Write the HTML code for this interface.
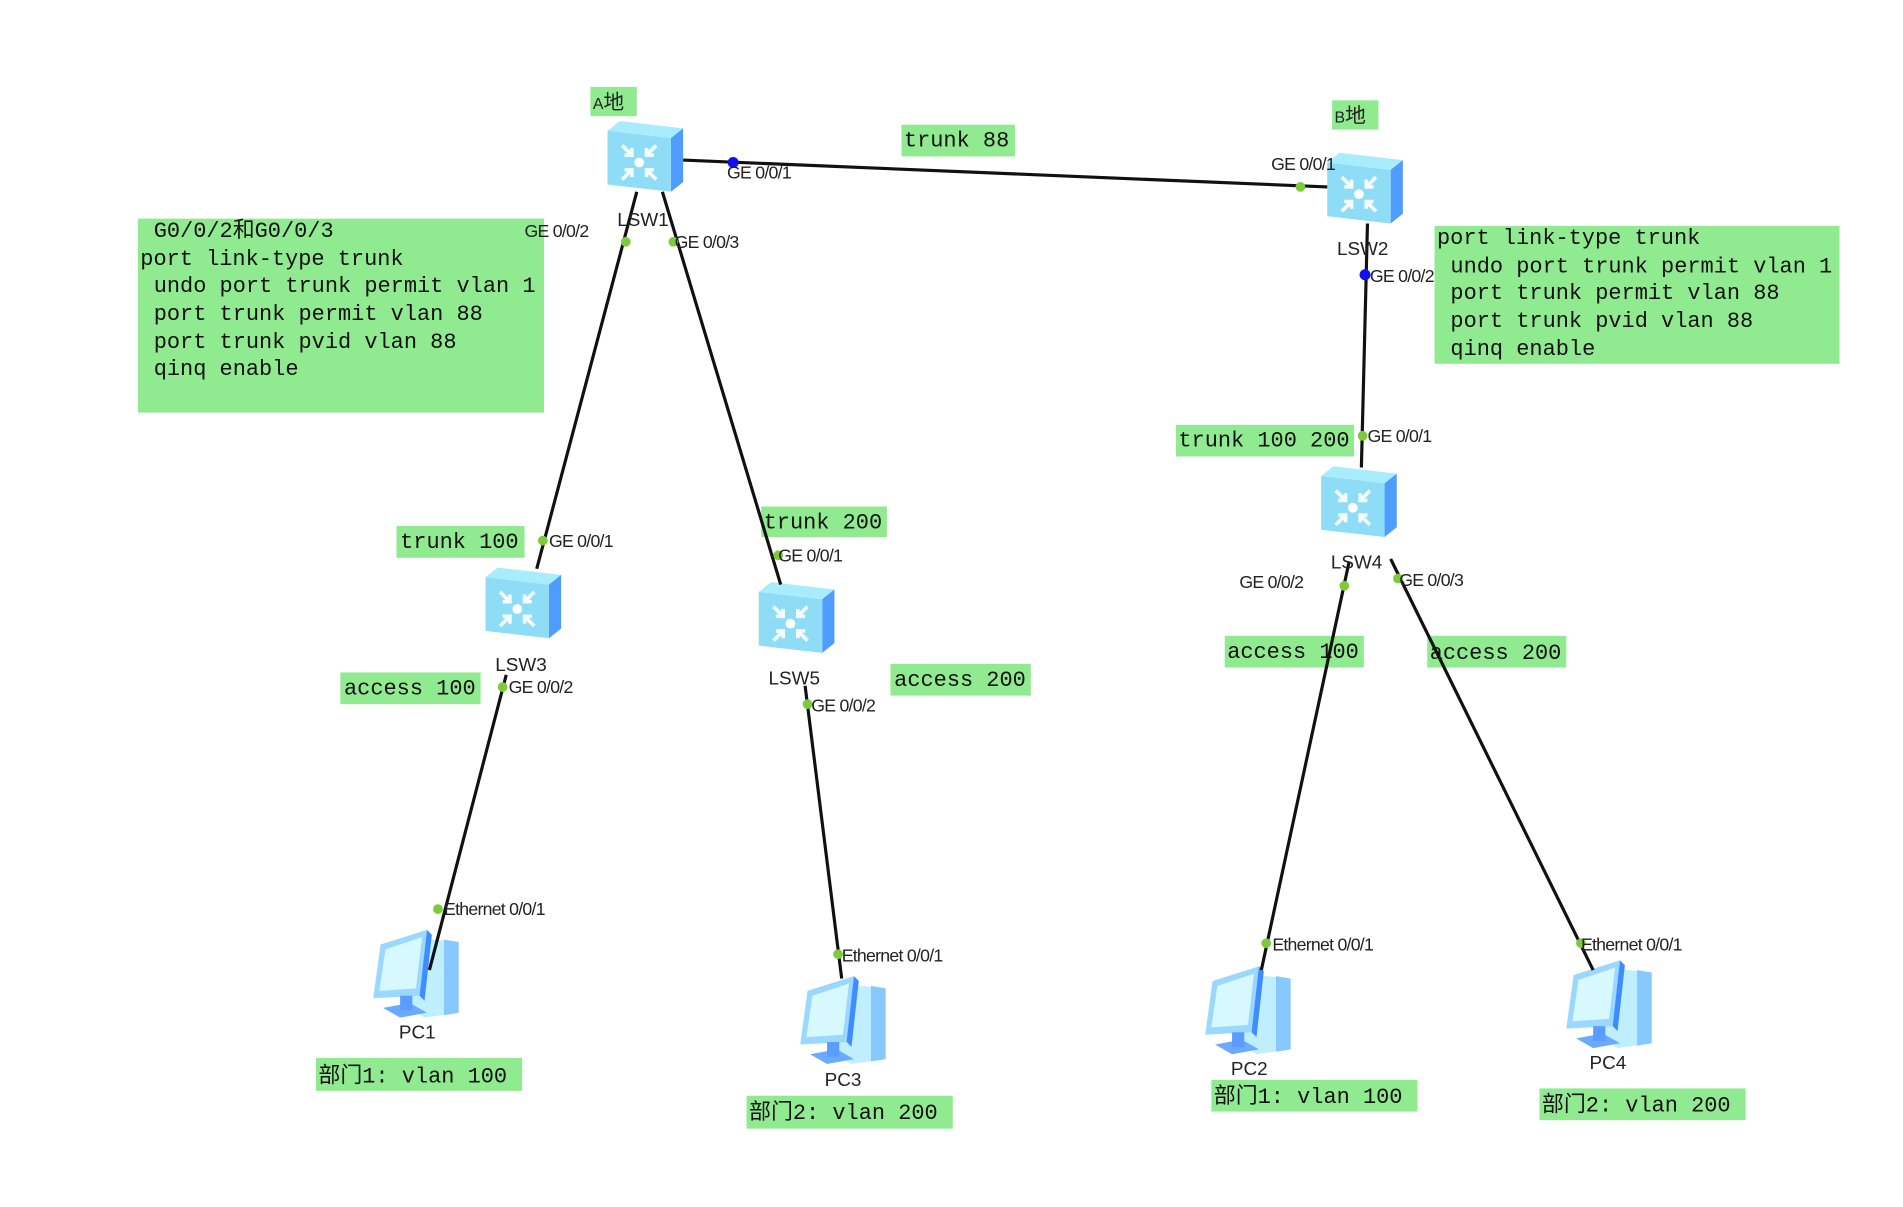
<!DOCTYPE html>
<html><head><meta charset="utf-8"><style>
html,body{margin:0;padding:0;background:#fff;width:1903px;height:1207px;overflow:hidden}
.m{font-family:"Liberation Mono","Noto Sans CJK SC",monospace;font-size:18px;fill:#111}
.s{font-family:"Liberation Sans","Noto Sans CJK SC",sans-serif;font-size:14.5px;fill:#222;letter-spacing:-0.6px}
.d{font-family:"Liberation Sans",sans-serif;font-size:15.5px;fill:#222}
.g{fill:#90EA8F}
</style></head><body>
<svg width="1903" height="1207" viewBox="0 0 1560 989" xmlns="http://www.w3.org/2000/svg">
<defs>
<g id="sw">
 <polygon points="0,8 10,0 62,6 52,14" fill="#a8ecff"/>
 <polygon points="52,14 62,6 62,50 52,58" fill="#4f9cff"/>
 <polygon points="0,8 52,14 52,58 0,52" fill="#8fdcf7"/>
 <g stroke="#fff" stroke-width="3" fill="none" opacity="0.9">
  <path d="M12,20 l8,8 M20,22 v6 h-6"/><path d="M40,20 l-8,8 M32,22 v6 h6"/>
  <path d="M12,48 l8,-8 M20,46 v-6 h-6"/><path d="M40,48 l-8,-8 M32,46 v-6 h6"/>
 </g>
 <circle cx="26" cy="34" r="4" fill="#fff"/>
</g>
<g id="pc">
 <polygon points="30,8 70,12 70,70 42,74 30,66" fill="#bfefff"/>
 <polygon points="58,10 70,12 70,70 58,72" fill="#86c8ff"/>
 <polygon points="6,14 44,2 38,56 0,58" fill="#9ad8ff"/>
 <polygon points="10,18 40,8 35,50 5,52" fill="#d8f8ff"/>
 <polygon points="44,2 48,6 42,60 38,56" fill="#3f8cff"/>
 <polygon points="8,66 30,62 44,70 22,74" fill="#6aaaff"/>
 <rect x="22" y="56" width="10" height="12" fill="#5a9cff"/>
</g>
</defs>
<rect class="g" x="484" y="71" width="38" height="24"/>
<rect class="g" x="1092" y="82" width="38" height="24"/>
<rect class="g" x="739" y="102" width="93" height="26"/>
<rect class="g" x="113" y="179" width="333" height="159"/>
<rect class="g" x="1176" y="185" width="332" height="113"/>
<rect class="g" x="964" y="348" width="146" height="26"/>
<rect class="g" x="325" y="431" width="105" height="26"/>
<rect class="g" x="624" y="415" width="103" height="25"/>
<rect class="g" x="279" y="551" width="115" height="26"/>
<rect class="g" x="730" y="544" width="115" height="26"/>
<rect class="g" x="1004" y="521" width="114" height="26"/>
<rect class="g" x="1170" y="521" width="114" height="26"/>
<rect class="g" x="259" y="867" width="169" height="27"/>
<rect class="g" x="612" y="898" width="169" height="27"/>
<rect class="g" x="993" y="885" width="169" height="26"/>
<rect class="g" x="1262" y="892" width="169" height="26"/>
<text class="d" x="486" y="89" style="font-size:13px">A<tspan style="font-size:17px">地</tspan></text>
<text class="d" x="1094" y="100" style="font-size:13px">B<tspan style="font-size:17px">地</tspan></text>
<text class="m" x="741" y="120">trunk 88</text>
<g class="m">
<text x="126" y="194">G0/0/2和G0/0/3</text>
<text x="115" y="217">port link-type trunk</text>
<text x="126" y="239">undo port trunk permit vlan 1</text>
<text x="126" y="262">port trunk permit vlan 88</text>
<text x="126" y="285">port trunk pvid vlan 88</text>
<text x="126" y="307">qinq enable</text>
<text x="1178" y="200">port link-type trunk</text>
<text x="1189" y="223">undo port trunk permit vlan 1</text>
<text x="1189" y="245">port trunk permit vlan 88</text>
<text x="1189" y="268">port trunk pvid vlan 88</text>
<text x="1189" y="291">qinq enable</text>
<text x="966" y="366">trunk 100 200</text>
<text x="328" y="449">trunk 100</text>
<text x="626" y="433">trunk 200</text>
<text x="282" y="569">access 100</text>
<text x="733" y="562">access 200</text>
<text x="1006" y="539">access 100</text>
<text x="1172" y="540">access 200</text>
<text x="261" y="887">部门1: vlan 100</text>
<text x="614" y="917">部门2: vlan 200</text>
<text x="995" y="904">部门1: vlan 100</text>
<text x="1264" y="911">部门2: vlan 200</text>
</g>
<use href="#sw" x="498" y="99"/>
<use href="#sw" x="1088" y="125"/>
<use href="#sw" x="398" y="465"/>
<use href="#sw" x="622" y="477"/>
<use href="#sw" x="1083" y="382"/>
<use href="#pc" x="306" y="760"/>
<use href="#pc" x="656" y="798"/>
<use href="#pc" x="988" y="790"/>
<use href="#pc" x="1284" y="785"/>
<g stroke="#111" stroke-width="2.6" fill="none">
<line x1="560" y1="131" x2="1088" y2="153"/>
<line x1="522" y1="157" x2="440" y2="466"/>
<line x1="543" y1="157" x2="640" y2="479"/>
<line x1="1121" y1="183" x2="1116" y2="383"/>
<line x1="415" y1="553" x2="352" y2="795"/>
<line x1="660" y1="562" x2="690" y2="802"/>
<line x1="1106" y1="460" x2="1034" y2="795"/>
<line x1="1140" y1="458" x2="1306" y2="795"/>
</g>
<g fill="#7ccc3a">
<circle cx="1066" cy="153" r="4"/><circle cx="513" cy="198" r="4"/><circle cx="552" cy="198" r="4"/>
<circle cx="445" cy="443" r="4"/><circle cx="638" cy="455" r="4"/><circle cx="1117" cy="357" r="4"/>
<circle cx="412" cy="563" r="4"/><circle cx="662" cy="577" r="4"/><circle cx="1102" cy="480" r="4"/>
<circle cx="1146" cy="474" r="4"/><circle cx="359" cy="745" r="4"/><circle cx="687" cy="782" r="4"/>
<circle cx="1038" cy="773" r="4"/><circle cx="1296" cy="773" r="4"/>
</g>
<g fill="#1010ee"><circle cx="601" cy="133" r="4.5"/><circle cx="1119" cy="225" r="4.5"/></g>
<g class="s">
<text x="596" y="146">GE 0/0/1</text>
<text x="1042" y="139">GE 0/0/1</text>
<text x="430" y="194">GE 0/0/2</text>
<text x="553" y="203">GE 0/0/3</text>
<text x="1123" y="231">GE 0/0/2</text>
<text x="1121" y="362">GE 0/0/1</text>
<text x="450" y="448">GE 0/0/1</text>
<text x="638" y="460">GE 0/0/1</text>
<text x="417" y="568">GE 0/0/2</text>
<text x="665" y="583">GE 0/0/2</text>
<text x="1016" y="482">GE 0/0/2</text>
<text x="1147" y="480">GE 0/0/3</text>
<text x="364" y="750">Ethernet 0/0/1</text>
<text x="690" y="788">Ethernet 0/0/1</text>
<text x="1043" y="779">Ethernet 0/0/1</text>
<text x="1296" y="779">Ethernet 0/0/1</text>
</g>
<g class="d">
<text x="506" y="185">LSW1</text>
<text x="1096" y="209">LSW2</text>
<text x="406" y="550">LSW3</text>
<text x="630" y="561">LSW5</text>
<text x="1091" y="466">LSW4</text>
<text x="327" y="851">PC1</text>
<text x="676" y="890">PC3</text>
<text x="1009" y="881">PC2</text>
<text x="1303" y="876">PC4</text>
</g>
</svg>
</body></html>
